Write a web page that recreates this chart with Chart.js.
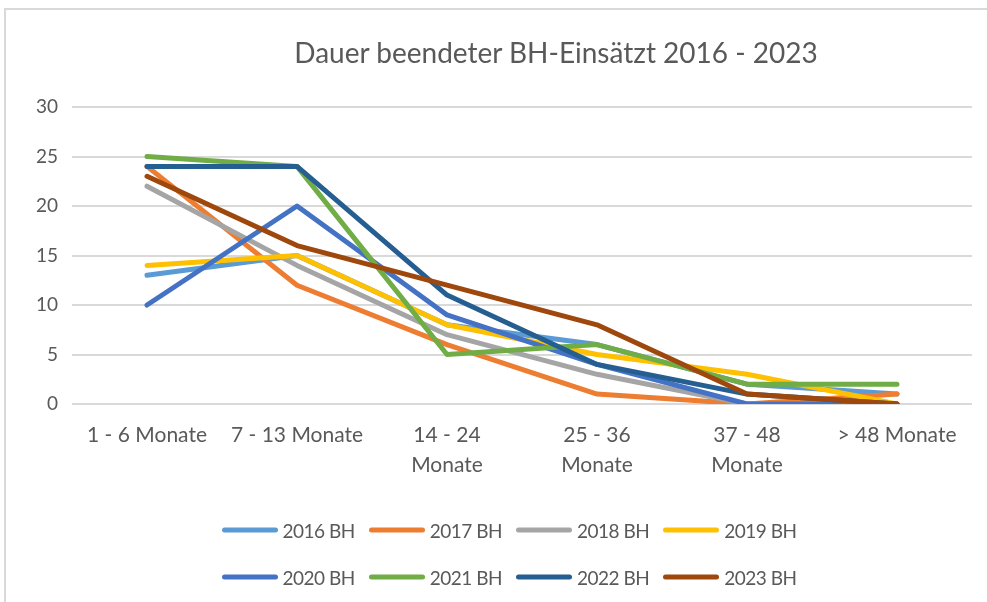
<!DOCTYPE html>
<html>
<head>
<meta charset="utf-8">
<script src="https://cdn.jsdelivr.net/npm/chart.js@4/dist/chart.umd.min.js"></script>
<style>
  body { margin: 0; background: #fff; font-family: Lato, "Noto Sans", sans-serif; }
  #wrap { position: relative; width: 987px; height: 602px; overflow: hidden; }
  #frame { position: absolute; left: 4px; top: 8px; width: 1100px; height: 700px;
           border-left: 2px solid #d9d9d9; border-top: 2px solid #d9d9d9; }
  #titulo { position: absolute; left: 556px; top: 52px; transform: translate(-50%, -50%);
            white-space: nowrap; font-size: 28px; color: #595959; }
  .fila { position: absolute; left: 0; width: 1018px; display: flex; justify-content: center;
          transform: translateY(-50%); }
  .item { display: flex; align-items: center; margin: 0 7px; font-size: 19px; letter-spacing: -0.5px; color: #595959; }
  .muestra { width: 56px; height: 5px; border-radius: 3px; margin-right: 5px; }
</style>
</head>
<body>
<div id="wrap">
  <div id="frame"></div>
  <canvas id="grafica" width="987" height="602"></canvas>
  <div id="titulo">Dauer beendeter BH-Einsätzt 2016 - 2023</div>
  <div class="fila" id="fila1" style="top:530px"></div>
  <div class="fila" id="fila2" style="top:577px"></div>
</div>
<script>
const categorias = ["1 - 6 Monate", "7 - 13 Monate", ["14 - 24", "Monate"], ["25 - 36", "Monate"], ["37 - 48", "Monate"], "> 48 Monate"];
const series = ["2016 BH", "2017 BH", "2018 BH", "2019 BH", "2020 BH", "2021 BH", "2022 BH", "2023 BH"];
const bh2016 = [13, 15, 8, 6, 2, 1];
const bh2017 = [24, 12, 6, 1, 0, 1];
const bh2018 = [22, 14, 7, 3, 0, 0];
const bh2019 = [14, 15, 8, 5, 3, 0];
const bh2020 = [10, 20, 9, 4, 0, 0];
const bh2021 = [25, 24, 5, 6, 2, 2];
const bh2022 = [24, 24, 11, 4, 1, 0];
const bh2023 = [23, 16, 12, 8, 1, 0];
const ticksY = [0, 5, 10, 15, 20, 25, 30];

const colores = ["#5B9BD5", "#ED7D31", "#A5A5A5", "#FFC000", "#4472C4", "#70AD47", "#255E91", "#9E480E"];

graficaDauer([bh2016, bh2017, bh2018, bh2019, bh2020, bh2021, bh2022, bh2023]);
leyenda();

function graficaDauer(valores) {
  const cxt = document.getElementById("grafica");
  const myChart = new Chart(cxt, {
    type: "line",
    data: {
      labels: categorias,
      datasets: valores.map((data, i) => ({
        label: series[i],
        data: data,
        borderColor: colores[i],
        backgroundColor: colores[i],
        borderWidth: 5,
        borderCapStyle: "round",
        borderJoinStyle: "round",
        pointRadius: 0,
        tension: 0,
        fill: false,
        order: valores.length - i,
      })),
    },
    options: {
      responsive: false,
      animation: false,
      layout: { padding: { left: 0, right: 15, top: 107, bottom: 118 } },
      plugins: { legend: { display: false }, title: { display: false }, tooltip: { enabled: false } },
      scales: {
        x: {
          offset: true,
          grid: { display: false, drawTicks: false },
          border: { display: false },
          ticks: { color: "#595959", font: { family: "Lato", size: 21, lineHeight: 1.4 }, padding: 17, maxRotation: 0, autoSkip: false },
          afterFit: (s) => { s.height = 80; },
        },
        y: {
          min: 0,
          max: 30,
          afterBuildTicks: (s) => { s.ticks = ticksY.map((v) => ({ value: v })); },
          grid: { color: "#d9d9d9", lineWidth: 2, drawTicks: false },
          border: { display: false },
          ticks: { color: "#595959", font: { family: "Lato", size: 19 }, padding: 14 },
          afterFit: (s) => { s.width = 72; },
        },
      },
    },
  });
}

function leyenda() {
  for (let i = 0; i < series.length; i++) {
    const fila = document.getElementById(i < 4 ? "fila1" : "fila2");
    const item = document.createElement("div");
    item.className = "item";
    item.innerHTML = '<span class="muestra" style="background:' + colores[i] + '"></span>' + series[i];
    fila.appendChild(item);
  }
}
</script>
</body>
</html>
